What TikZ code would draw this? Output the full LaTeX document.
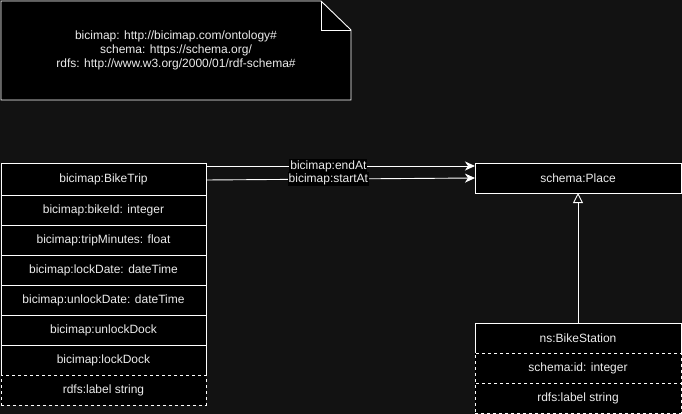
\documentclass[tikz,border=0pt]{standalone}
\usepackage{fontspec}
\setmainfont{Liberation Sans}
\usetikzlibrary{positioning,arrows.meta}
\definecolor{bgcol}{RGB}{18,18,18}
\definecolor{txtcol}{RGB}{236,236,236}
\def\noteshape{(1,1) -- (321,1) -- (351,30) -- (351,100) -- (1,100) -- cycle}
\def\notefold{(321,1) -- (321,30) -- (351,30)}
\tikzset{
    row/.style={draw=white,fill=black,text=txtcol,minimum width=205pt,minimum height=30pt,inner sep=0pt,outer sep=0pt},
    dashrow/.style={row,dashed},
    rel/.style={draw=white,-{Stealth[length=10pt,width=9pt,inset=3pt]}},
    rellabel/.style={fill=black,text=txtcol,inner sep=1pt,pos=0.455}
}
\begin{document}
\begin{tikzpicture}[x=1pt,y=-1pt,line width=0.9pt,font=\fontsize{12}{14}\selectfont]
    \fill[bgcol] (0,0) rectangle (682,414);
    \useasboundingbox (0,0) rectangle (682,414);
    \draw[white,fill=black] \noteshape;
    \draw[white] \notefold;
    \node[text=txtcol,align=center] (prefixes) at (176,50) {bicimap: http://bicimap.com/ontology\#\\schema: https://schema.org/\\rdfs: http://www.w3.org/2000/01/rdf-schema\#};
    % left class
    \node[row,minimum height=32pt,anchor=north west] (trip) at (1,163) {bicimap:BikeTrip};
    \node[row,below=0pt of trip] (bikeid) {bicimap:bikeId: integer};
    \node[row,below=0pt of bikeid] (minutes) {bicimap:tripMinutes: float};
    \node[row,below=0pt of minutes] (lockdate) {bicimap:lockDate: dateTime};
    \node[row,below=0pt of lockdate] (unlockdate) {bicimap:unlockDate: dateTime};
    \node[row,below=0pt of unlockdate] (unlockdock) {bicimap:unlockDock};
    \node[row,below=0pt of unlockdock] (lockdock) {bicimap:lockDock};
    \node[dashrow,below=0pt of lockdock] (triplabel) {rdfs:label string};
    % right classes
    \node[row,anchor=north west,minimum width=206pt] (place) at (475,163) {schema:Place};
    \node[row,anchor=north west,minimum width=206pt] (station) at (475,323) {ns:BikeStation};
    \node[dashrow,minimum width=206pt,below=0pt of station] (stationid) {schema:id: integer};
    \node[dashrow,minimum width=206pt,below=0pt of stationid] (stationlabel) {rdfs:label string};
    % relations
    \draw[rel] ([yshift=-3pt]trip.north east) -- ([yshift=-3pt]place.north west) node[rellabel] {bicimap:endAt};
    \draw[rel] ([yshift=-1pt]trip.east) -- (place.west) node[rellabel] {bicimap:startAt};
    \draw[white,-{Triangle[open,length=10pt,width=10pt]}] (station.north) -- (place.south);
\end{tikzpicture}
\end{document}
